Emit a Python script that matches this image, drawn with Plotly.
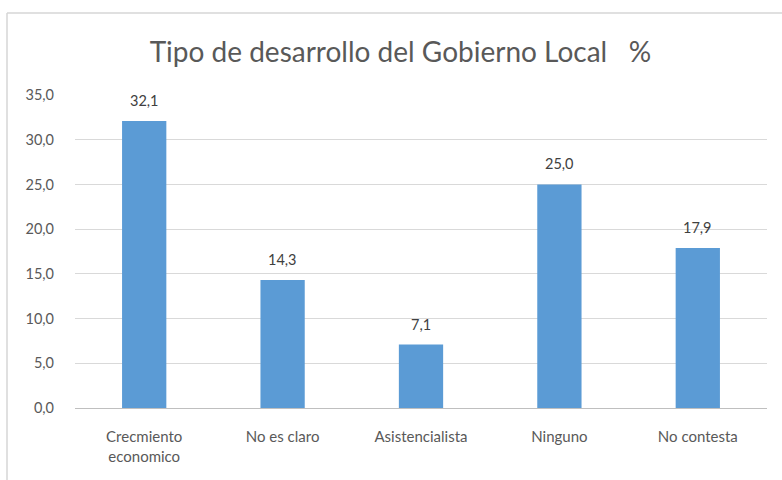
import plotly.graph_objects as go

categories = ["Crecmiento<br>economico", "No es claro", "Asistencialista", "Ninguno", "No contesta"]
values = [32.1, 14.3, 7.1, 25.0, 17.9]
y_ticks = [0, 5, 10, 15, 20, 25, 30, 35]

FONT = "Lato, Calibri, Carlito, sans-serif"
GRAY = "#595959"

fig = go.Figure(
    go.Bar(
        x=categories,
        y=values,
        marker=dict(color="#5B9BD5", line=dict(width=0)),
        hoverinfo="x+y",
    )
)

# value labels above each bar
for cat, v in zip(categories, values):
    fig.add_annotation(
        x=cat, y=v, xref="x", yref="y",
        text=f"{v:.1f}".replace(".", ","),
        showarrow=False, yanchor="bottom", yshift=10,
        font=dict(family=FONT, size=14.5, color="#404040"),
    )

# plot area in pixels: x 75..767, y 95..408
L, R, T, B = 75, 15, 95, 72
W, H = 782, 480
pw, ph = W - L - R, H - T - B


def px_x(p):
    return (p - L) / pw


def px_y(p):
    return (H - B - p) / ph


fig.update_layout(
    width=W,
    height=H,
    margin=dict(l=L, r=R, t=T, b=B),
    paper_bgcolor="white",
    plot_bgcolor="white",
    separators=",.",
    bargap=0.68,
    showlegend=False,
    title=dict(
        text="Tipo de desarrollo del Gobierno Local   %",
        x=0.512,
        xanchor="center",
        y=1 - 52 / H,
        yanchor="middle",
        font=dict(family=FONT, size=28, color=GRAY),
    ),
    xaxis=dict(
        tickfont=dict(family=FONT, size=15, color=GRAY),
        showline=False,
        ticks="",
        showgrid=False,
        ticklabelstandoff=18,
    ),
    yaxis=dict(
        range=[0, 35],
        tickvals=y_ticks,
        tickformat=".1f",
        tickfont=dict(family=FONT, size=14.5, color=GRAY),
        showgrid=True,
        gridcolor="#d9d9d9",
        gridwidth=1,
        zeroline=True,
        zerolinecolor="#bfbfbf",
        zerolinewidth=1,
        showline=False,
        ticks="",
        ticklabelstandoff=20,
    ),
    shapes=[
        # chart frame: left and top edges
        dict(type="line", xref="paper", yref="paper",
             x0=px_x(7), x1=px_x(7), y0=px_y(13), y1=px_y(480),
             line=dict(color="#d6d6d6", width=1.5)),
        dict(type="line", xref="paper", yref="paper",
             x0=px_x(7), x1=px_x(782), y0=px_y(13), y1=px_y(13),
             line=dict(color="#d6d6d6", width=1.5)),
    ],
)

fig.write_html("out.html")
